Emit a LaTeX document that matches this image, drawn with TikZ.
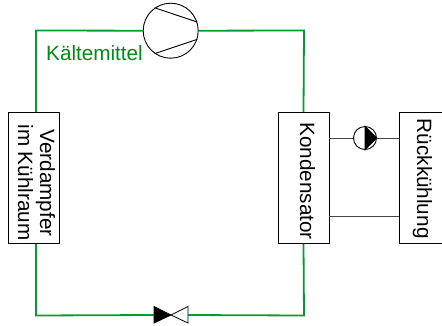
\documentclass[tikz,border=0pt]{standalone}
\usepackage{fontspec}
\setmainfont{Liberation Sans}
\usepackage{xcolor}
\definecolor{kaeltegruen}{RGB}{0,155,50}
\definecolor{kaeltetext}{RGB}{0,140,20}
\definecolor{linegray}{RGB}{70,70,70}
\tikzset{
  boxnode/.style={draw=black,fill=white,line width=0.9pt,minimum width=51pt,minimum height=131pt,inner sep=0pt},
  boxlabel/.style={rotate=-90,anchor=base,inner sep=0pt,font=\fontsize{20.7}{22}\selectfont},
  pipe/.style={draw=kaeltegruen,line width=1.8pt},
  water/.style={draw=linegray,line width=1pt},
  ringnode/.style={circle,draw=black,fill=white,line width=0.9pt,inner sep=0pt}
}
\begin{document}
\begin{tikzpicture}[x=1pt,y=1pt,yscale=-1,xscale=1]
\useasboundingbox (0,0) rectangle (442,325);
\clip (0,0) rectangle (442,325);
% boxes
\node [boxnode] (verd) at (34,178) {};
\node [boxnode] (kond) at (303.5,178) {};
\node [boxnode,minimum width=60pt,anchor=west] (rueck) at (399,178) {};
% Text Node
\node [boxlabel] (verdt) at (40,183) {Verdampfer};
\node [boxlabel] (raumt) at (18,182.5) {im Kühlraum};
\node [boxlabel] (kondt) at (300,181) {Kondensator};
\node [boxlabel] (rueckt) at (417,178.7) {Rückkühlung};
% corners of the loop
\coordinate (topleft) at (36,30.5);
\coordinate (topright) at (304,30.5);
\coordinate (botleft) at (36,315.5);
\coordinate (botright) at (304,315.5);
\node [ringnode,minimum size=55pt] (comp) at (170.7,30.7) {};
\coordinate (valve) at (171,315);
\coordinate (valvel) at (154,315);
\coordinate (valver) at (188,315);
% refrigerant
\draw [pipe] (comp.west) -- (topleft) -- ([xshift=2pt]verd.north);
\draw [pipe] (comp.east) -- (topright) -- (kond.north);
\draw [pipe] ([xshift=2pt]verd.south) -- (botleft) -- (valvel);
\draw [pipe] (kond.south) -- (botright) -- (valver);
% compressor
\draw [line width=0.9pt] (comp.125) -- (comp.18);
\draw [line width=0.9pt] (comp.235) -- (comp.342);
% valve
\draw [line width=0.8pt,fill=black] (valve) -- (154,306.5) -- (154,323) -- cycle;
\draw [line width=0.8pt,fill=white] (valve) -- (188,306.5) -- (188,323) -- cycle;
% cooling water
\node [ringnode,minimum size=23pt] (pump) at (365,138) {};
\draw [water] (kond.east |- pump) -- (pump);
\draw [water] (pump) -- (rueck.west |- pump);
\draw [fill=black,line width=0.6pt] (pump.north) -- (pump.east) -- (pump.south) -- cycle;
\coordinate (lowk) at (329,216);
\draw [water] (lowk) -- (rueck.west |- lowk);
% Text Node
\node [anchor=north west,inner sep=0pt,text=kaeltetext,font=\fontsize{20.7}{22}\selectfont] (kaelte) at (46,45.5) {Kältemittel};
\end{tikzpicture}
\end{document}
